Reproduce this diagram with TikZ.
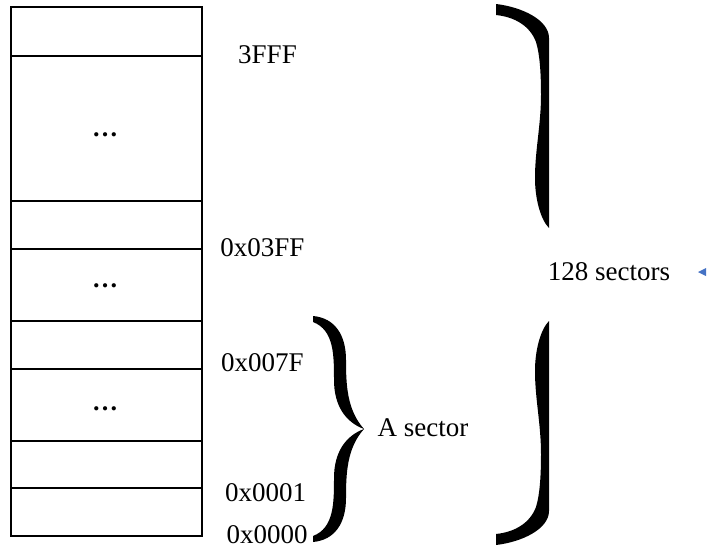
\documentclass[tikz,border=0pt]{standalone}
\usepackage{fontspec}
\setmainfont{Liberation Serif}
\usetikzlibrary{calc}
\definecolor{triblue}{HTML}{4472C4}
\begin{document}
\begin{tikzpicture}[x=1pt,y=-1pt,
  cell/.style={draw=black,line width=1.5pt,minimum width=191pt,inner sep=0pt,outer sep=0pt},
  lbl/.style={inner sep=0pt,font=\fontsize{27}{32}\selectfont},
  dotslbl/.style={inner sep=0pt,font=\fontsize{26}{32}\selectfont\bfseries},
  bracefill/.style={fill=black,draw=none}]
\useasboundingbox (0,0) rectangle (710,549);
% memory cells
\node[cell,minimum height=49pt]  (c1) at (106.5,31.5) {};
\node[cell,minimum height=145pt] (c2) at (106.5,128.5) {};
\node[cell,minimum height=48pt]  (c3) at (106.5,225) {};
\node[cell,minimum height=72pt]  (c4) at (106.5,285) {};
\node[cell,minimum height=48pt]  (c5) at (106.5,345) {};
\node[cell,minimum height=72pt]  (c6) at (106.5,405) {};
\node[cell,minimum height=47pt]  (c7) at (106.5,464.5) {};
\node[cell,minimum height=48pt]  (c8) at (106.5,512) {};
% ellipses inside cells
\node[dotslbl] (d2) at (105,135) {…};
\node[dotslbl] (d4) at (105,286) {…};
\node[dotslbl] (d6) at (105,409) {…};
% address labels
\node[lbl] (l3fff) at (267.5,55) {3FFF};
\node[lbl] (l03ff) at (262.5,248) {0x03FF};
\node[lbl] (l007f) at (262.5,363) {0x007F};
\node[lbl] (l0001) at (265.5,493) {0x0001};
\node[lbl] (l0000) at (267,535) {0x0000};
% small brace
\fill[bracefill] (313,316) .. controls (335,318) and (346,335) .. (346,360)
  .. controls (346,385) and (347,410) .. (364,429)
  .. controls (345,422) and (334,405) .. (334,380)
  .. controls (334,355) and (334,330) .. (313,322) -- cycle;
\fill[bracefill] (313,542) .. controls (335,540) and (346,523) .. (346,498)
  .. controls (346,473) and (347,448) .. (364,429)
  .. controls (345,436) and (334,453) .. (334,478)
  .. controls (334,503) and (334,528) .. (313,536) -- cycle;
\node[lbl] (asector) at (423,428) {A sector};
% big brace (upper and lower parts)
\fill[bracefill] (496,4) .. controls (522,7) and (549,20) .. (549,38) -- (549,228)
  .. controls (541,220) and (535,200) .. (535,178)
  .. controls (535,150) and (541,125) .. (541,95)
  .. controls (541,75) and (540,55) .. (536,42)
  .. controls (530,26) and (515,17) .. (496,15) -- cycle;
\fill[bracefill] (496,545) .. controls (522,542) and (549,529) .. (549,511) -- (549,321)
  .. controls (541,329) and (535,349) .. (535,371)
  .. controls (535,399) and (541,424) .. (541,454)
  .. controls (541,474) and (540,494) .. (536,507)
  .. controls (530,523) and (515,532) .. (496,534) -- cycle;
\node[lbl] (sectors) at (609,272) {128 sectors};
% small blue marker
\coordinate (tri) at (702,272);
\fill[triblue] ($(tri)+(-4,0)$) -- ($(tri)+(4,-4)$) -- ($(tri)+(4,4)$) -- cycle;
\end{tikzpicture}
\end{document}
